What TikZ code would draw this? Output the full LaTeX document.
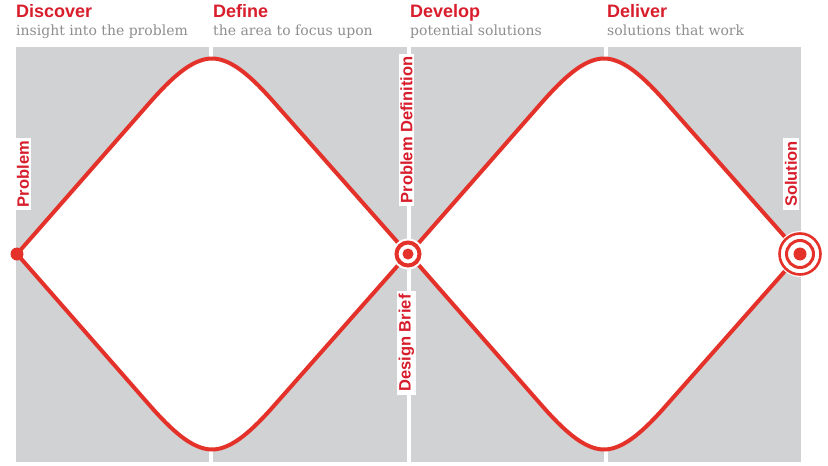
\documentclass[tikz,border=0pt]{standalone}
\usepackage{fontspec}
\setmainfont{DejaVu Serif}
\newfontfamily\hd{Liberation Sans}
\definecolor{dred}{HTML}{E4322B}
\definecolor{tred}{HTML}{D81E2C}
\definecolor{panel}{HTML}{D1D2D4}
\definecolor{subg}{HTML}{8E8E8E}
\begin{document}
\begin{tikzpicture}[x=1pt,y=-1pt,
  head/.style={anchor=base west, inner sep=0pt, font=\hd\bfseries\fontsize{18}{18}\selectfont, text=tred},
  subt/.style={anchor=base west, inner sep=0pt, font=\fontsize{14}{14}\selectfont, text=subg},
  vlab/.style={rotate=90, fill=white, text=tred, font=\hd\bfseries\fontsize{16.5}{16.5}\selectfont, inner xsep=3pt, inner ysep=1.5pt},
  dline/.style={draw=dred, line width=4pt, fill=white, line join=round},
  panelbox/.style={fill=panel}
]
\useasboundingbox (0,0) rectangle (828,466);
% panels
\fill[panelbox] (16,47) rectangle (209,462);
\fill[panelbox] (213,47) rectangle (407,462);
\fill[panelbox] (411,47) rectangle (604,462);
\fill[panelbox] (608,47) rectangle (801,462);
% diamonds
\def\diamondpath{(17,254) -- (149.3,103.1) .. controls (171.1,78.3) and (192,58.5) .. (212,58.5) .. controls (232,58.5) and (252.9,78.3) .. (274.7,103.1) -- (408,254) -- (274.7,404.9) .. controls (252.9,429.7) and (232,449.5) .. (212,449.5) .. controls (192,449.5) and (171.1,429.7) .. (149.3,404.9) -- cycle}
\path[dline] \diamondpath;
\begin{scope}[xshift=392pt]
\path[dline] \diamondpath;
\end{scope}
% headings
\node[head] (h1) at (16,17.5) {Discover};
\node[subt] (s1) at (16,35) {insight into the problem};
\node[head] (h2) at (213,17.5) {Define};
\node[subt] (s2) at (213,35) {the area to focus upon};
\node[head] (h3) at (410,17.5) {Develop};
\node[subt] (s3) at (410,35) {potential solutions};
\node[head] (h4) at (607,17.5) {Deliver};
\node[subt] (s4) at (607,35) {solutions that work};
% vertical labels
\node[vlab] (l1) at (23,174) {Problem};
\node[vlab] (l2) at (406.5,130) {Problem Definition};
\node[vlab] (l3) at (406.5,343) {Design Brief};
\node[vlab] (l4) at (791,174) {Solution};
% markers
\fill[dred] (17,254) circle (6.5);
\fill[white] (408,254) circle (15.5);
\draw[dred, line width=4pt] (408,254) circle (11.5);
\fill[dred] (408,254) circle (5.5);
\fill[white] (800,254) circle (23);
\draw[dred, line width=2.6pt] (800,254) circle (20.5);
\draw[dred, line width=3pt] (800,254) circle (13.5);
\fill[dred] (800,254) circle (6.5);
\end{tikzpicture}
\end{document}
